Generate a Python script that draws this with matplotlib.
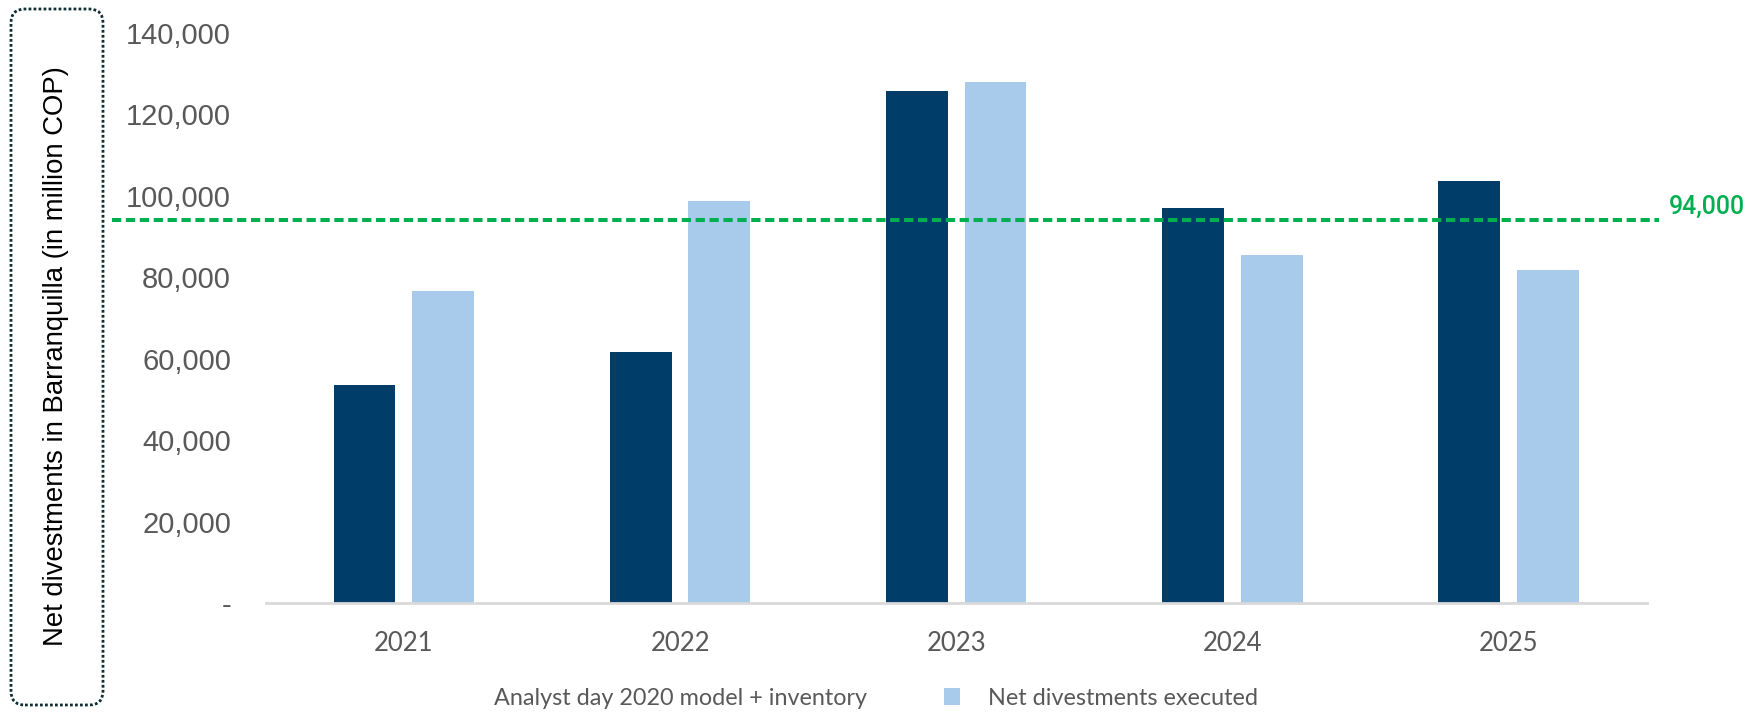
import matplotlib.pyplot as plt
import numpy as np
from matplotlib.patches import FancyBboxPatch, Patch
from matplotlib.ticker import FuncFormatter
from matplotlib.transforms import IdentityTransform

# Net divestments per year (million COP)
years = ["2021", "2022", "2023", "2024", "2025"]
model_inventory = [53400, 61700, 125600, 97000, 103700]
executed = [76500, 98600, 128000, 85500, 81700]
target = 94000

dark = "#003E69"
light = "#A8CAEB"
green = "#00B050"
grey = "#595959"

fig = plt.figure(figsize=(17.6, 7.13), dpi=100)
ax = fig.add_axes([0.151, 0.1543, 0.7846, 0.7997])

x = np.arange(len(years))
w = 0.2236
off = 0.1423
ax.bar(x - off, model_inventory, w, color=dark, label="Analyst day 2020 model + inventory")
ax.bar(x + off, executed, w, color=light, label="Net divestments executed")

ax.set_xlim(-0.5, len(years) - 0.5)
ax.set_ylim(0, 140000)
ax.set_yticks(range(0, 140001, 20000))
ax.yaxis.set_major_formatter(FuncFormatter(lambda v, p: "-" if v == 0 else f"{int(v):,}"))
ax.set_xticks(x)
ax.set_xticklabels(years, family="Lato", fontsize=18.5, color=grey)
for lab in ax.get_yticklabels():
    lab.set_family("Liberation Sans")
    lab.set_fontsize(21)
    lab.set_color(grey)
ax.tick_params(axis="both", length=0)
ax.tick_params(axis="y", pad=25)
ax.tick_params(axis="x", pad=20)

for s in ["top", "right", "left"]:
    ax.spines[s].set_visible(False)
ax.spines["bottom"].set_color("#D9D9D9")
ax.spines["bottom"].set_linewidth(2)

# target line, runs out past the plot area on both sides
ax.plot([-1.058, 4.545], [target, target], color=green, lw=2.9, ls=(0, (2.3, 1.15)),
        clip_on=False, zorder=5)
ax.text(4.581, target + 3300, f"{target:,}", color=green, fontsize=18,
        family="Roboto", fontweight="medium", va="center", ha="left", clip_on=False)

# y label inside a dotted rounded box (pixel coords)
fig.text(0.032, 0.5, "Net divestments in Barranquilla (in million COP)",
         rotation=90, va="center", ha="center", fontsize=19.8,
         family="Liberation Sans", color="black")
box = FancyBboxPatch((11, 8), 92, 696, boxstyle="round,pad=0,rounding_size=14",
                     transform=IdentityTransform(), fill=False, edgecolor="#0E2F33",
                     lw=2, ls=(0, (1, 0.8)))
fig.patches.append(box)

handles = [Patch(facecolor="none", edgecolor="none"), Patch(facecolor=light, edgecolor="none")]
leg = fig.legend(handles, ["Analyst day 2020 model + inventory", "Net divestments executed"],
                 loc="center", bbox_to_anchor=(0.485, 0.021), ncol=2, frameon=False,
                 prop={"family": "Lato", "size": 16.8}, handlelength=0.7, handleheight=0.7,
                 columnspacing=3.3, handletextpad=1.2)
for t in leg.get_texts():
    t.set_color(grey)

fig.savefig("out.png", dpi=100)
